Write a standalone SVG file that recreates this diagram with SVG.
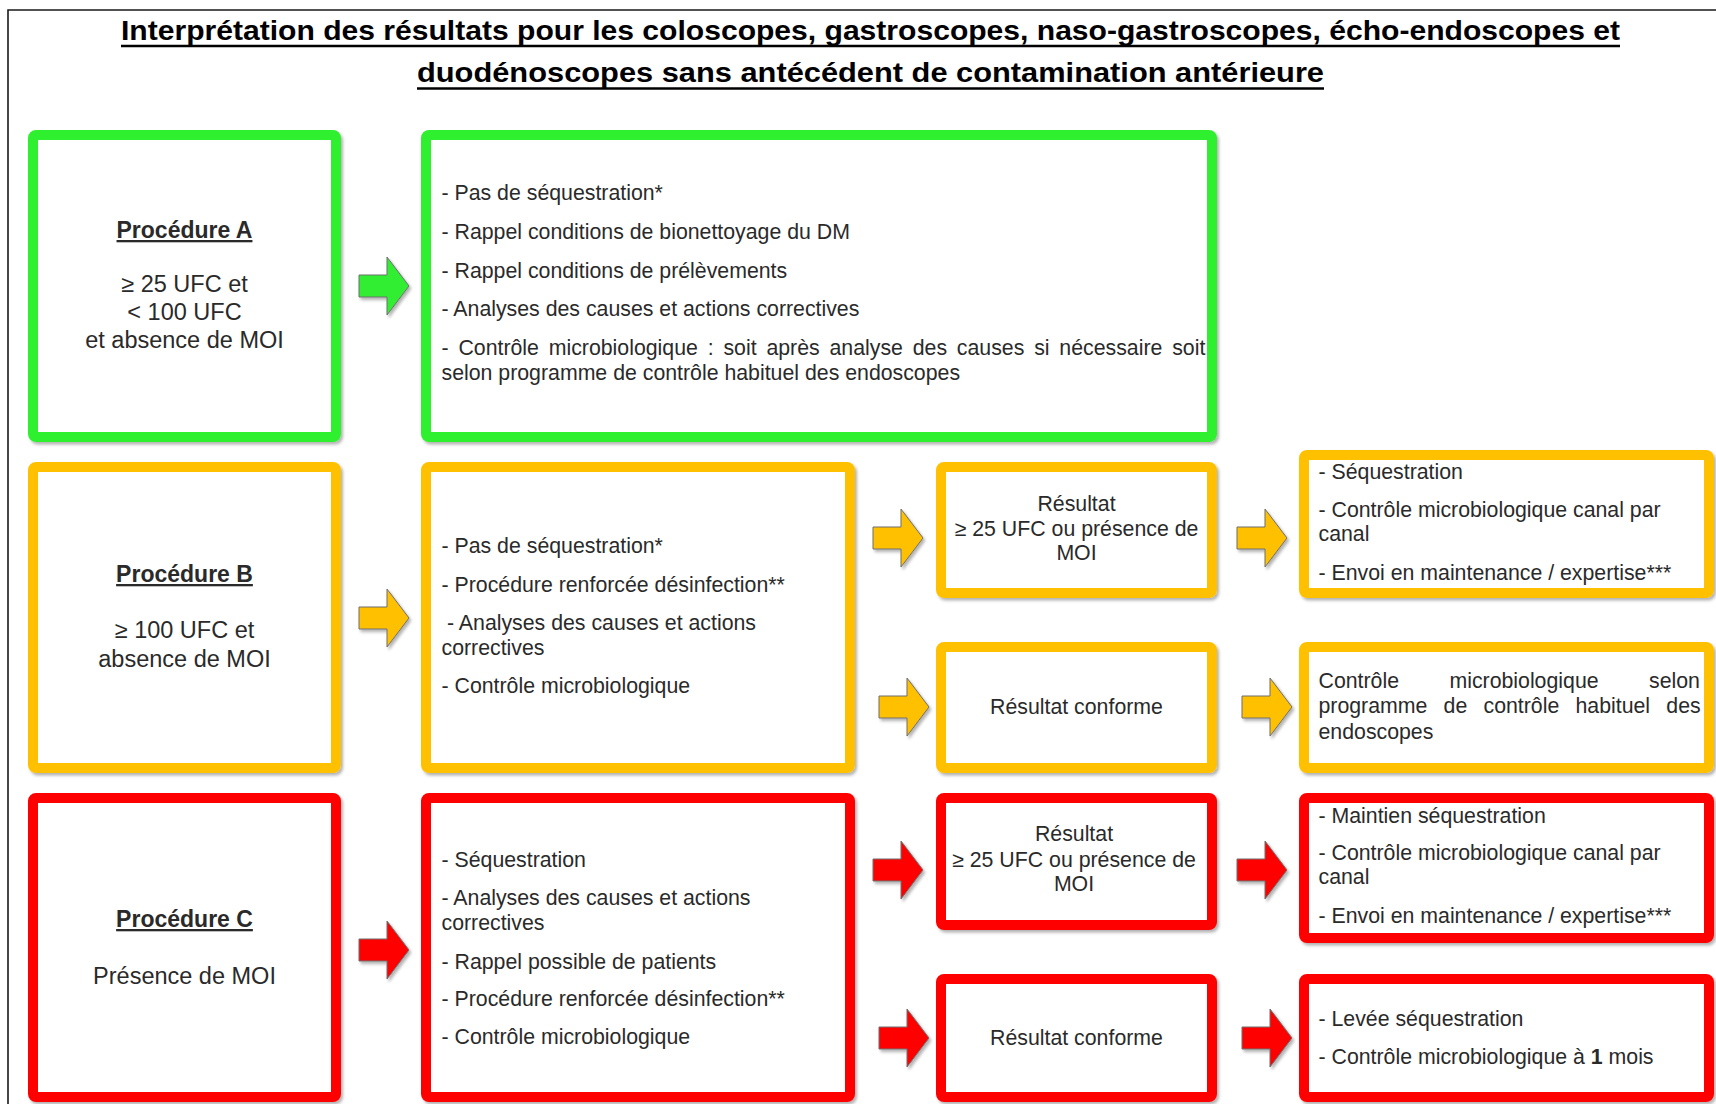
<svg xmlns="http://www.w3.org/2000/svg" xmlns:xlink="http://www.w3.org/1999/xlink" width="1716" height="1104" viewBox="0 0 1716 1104">
<defs>
<filter id="sh" x="-10%" y="-10%" width="120%" height="120%">
<feDropShadow dx="2" dy="2.5" stdDeviation="1.8" flood-color="#000" flood-opacity="0.3"/>
</filter>
<path id="arr" d="M0,-11 H28 V-29 L50,0 L28,29 V11 H0 Z"/>
</defs>
<style>
.bx{fill:#fff;stroke-width:10;filter:url(#sh)}
.g{stroke:#2EF02E}
.o{stroke:#FFC000}
.r{stroke:#FF0000}
.ag{fill:#33EE33}
.ao{fill:#FFC000}
.ar{fill:#FF0000}
.a{stroke:#6f6f6f;stroke-width:1;filter:url(#sh)}
text{font-family:"Liberation Sans",Arial,sans-serif;fill:#2a2a2a}
.t{font-size:21.3px}
.c{font-size:21.3px;text-anchor:middle}
.h{font-size:23px;font-weight:bold;text-anchor:middle;text-decoration:underline}
.p{font-size:23.5px;text-anchor:middle}
.ti{font-size:28px;font-weight:bold;fill:#000}
.ul{stroke:#000;stroke-width:2.5}
</style>
<rect width="1716" height="1104" fill="#fff"/>
<path d="M8,1104 V10 H1716" fill="none" stroke="#1a1a1a" stroke-width="1.6"/>
<g id="title">
<text class="ti" x="121" y="40" textLength="1499" lengthAdjust="spacingAndGlyphs">Interprétation des résultats pour les coloscopes, gastroscopes, naso-gastroscopes, écho-endoscopes et</text>
<text class="ti" x="417" y="82" textLength="907" lengthAdjust="spacingAndGlyphs">duodénoscopes sans antécédent de contamination antérieure</text>
<line class="ul" x1="121" y1="46" x2="1620" y2="46"/>
<line class="ul" x1="417" y1="88.5" x2="1324" y2="88.5"/>
</g>
<g id="connectors">
<use xlink:href="#arr" class="ag a" x="359" y="286"/>
<use xlink:href="#arr" class="ao a" x="359" y="618"/>
<use xlink:href="#arr" class="ar a" x="359" y="950"/>
<use xlink:href="#arr" class="ao a" x="873" y="538"/>
<use xlink:href="#arr" class="ao a" x="1237" y="538"/>
<use xlink:href="#arr" class="ao a" x="879" y="707"/>
<use xlink:href="#arr" class="ao a" x="1242" y="707"/>
<use xlink:href="#arr" class="ar a" x="873" y="870"/>
<use xlink:href="#arr" class="ar a" x="1237" y="870"/>
<use xlink:href="#arr" class="ar a" x="879" y="1038"/>
<use xlink:href="#arr" class="ar a" x="1242" y="1038"/>
</g>
<g id="procA">
<rect class="bx g" x="33" y="135" width="303" height="302" rx="3"/>
<text class="h" x="184.5" y="238">Procédure A</text>
<text class="p" x="184.5" y="292">≥ 25 UFC et</text>
<text class="p" x="184.5" y="320">&lt; 100 UFC</text>
<text class="p" x="184.5" y="348">et absence de MOI</text>
</g>
<g id="actionsA">
<rect class="bx g" x="426" y="135" width="786" height="302" rx="3"/>
<text class="t" x="441.5" y="200">- Pas de séquestration*</text>
<text class="t" x="441.5" y="239">- Rappel conditions de bionettoyage du DM</text>
<text class="t" x="441.5" y="277.5">- Rappel conditions de prélèvements</text>
<text class="t" x="441.5" y="316">- Analyses des causes et actions correctives</text>
<text class="t" x="441.5" y="354.5" word-spacing="3.9">- Contrôle microbiologique : soit après analyse des causes si nécessaire soit</text>
<text class="t" x="441.5" y="380">selon programme de contrôle habituel des endoscopes</text>
</g>
<g id="procB">
<rect class="bx o" x="33" y="467" width="303" height="301" rx="3"/>
<text class="h" x="184.5" y="582">Procédure B</text>
<text class="p" x="184.5" y="638">≥ 100 UFC et</text>
<text class="p" x="184.5" y="667">absence de MOI</text>
</g>
<g id="actionsB">
<rect class="bx o" x="426" y="467" width="424" height="301" rx="3"/>
<text class="t" x="441.5" y="553">- Pas de séquestration*</text>
<text class="t" x="441.5" y="592">- Procédure renforcée désinfection**</text>
<text class="t" x="447" y="630">- Analyses des causes et actions</text>
<text class="t" x="441.5" y="655">correctives</text>
<text class="t" x="441.5" y="693">- Contrôle microbiologique</text>
</g>
<g id="resB1">
<rect class="bx o" x="941" y="467" width="271" height="126" rx="3"/>
<text class="c" x="1076.5" y="511">Résultat</text>
<text class="c" x="1076.5" y="536">≥ 25 UFC ou présence de</text>
<text class="c" x="1076.5" y="560">MOI</text>
</g>
<g id="suiteB1">
<rect class="bx o" x="1304" y="455" width="405" height="138" rx="3"/>
<text class="t" x="1318.5" y="479">- Séquestration</text>
<text class="t" x="1318.5" y="516.5">- Contrôle microbiologique canal par</text>
<text class="t" x="1318.5" y="540.5">canal</text>
<text class="t" x="1318.5" y="580">- Envoi en maintenance / expertise***</text>
</g>
<g id="resB2">
<rect class="bx o" x="941" y="647" width="271" height="121" rx="3"/>
<text class="c" x="1076.5" y="713.5">Résultat conforme</text>
</g>
<g id="suiteB2">
<rect class="bx o" x="1304" y="647" width="405" height="121" rx="3"/>
<text class="t" x="1318.5" y="688" word-spacing="44.5">Contrôle microbiologique selon</text>
<text class="t" x="1318.5" y="713" word-spacing="10.3">programme de contrôle habituel des</text>
<text class="t" x="1318.5" y="738.5">endoscopes</text>
</g>
<g id="procC">
<rect class="bx r" x="33" y="798" width="303" height="299" rx="3"/>
<text class="h" x="184.5" y="927">Procédure C</text>
<text class="p" x="184.5" y="983.5">Présence de MOI</text>
</g>
<g id="actionsC">
<rect class="bx r" x="426" y="798" width="424" height="299" rx="3"/>
<text class="t" x="441.5" y="867">- Séquestration</text>
<text class="t" x="441.5" y="905">- Analyses des causes et actions</text>
<text class="t" x="441.5" y="930">correctives</text>
<text class="t" x="441.5" y="968.5">- Rappel possible de patients</text>
<text class="t" x="441.5" y="1006">- Procédure renforcée désinfection**</text>
<text class="t" x="441.5" y="1044">- Contrôle microbiologique</text>
</g>
<g id="resC1">
<rect class="bx r" x="941" y="798" width="271" height="127" rx="3"/>
<text class="c" x="1074" y="841">Résultat</text>
<text class="c" x="1074" y="867">≥ 25 UFC ou présence de</text>
<text class="c" x="1074" y="891">MOI</text>
</g>
<g id="suiteC1">
<rect class="bx r" x="1304" y="798" width="405" height="140" rx="3"/>
<text class="t" x="1318.5" y="822.5">- Maintien séquestration</text>
<text class="t" x="1318.5" y="860">- Contrôle microbiologique canal par</text>
<text class="t" x="1318.5" y="884">canal</text>
<text class="t" x="1318.5" y="923">- Envoi en maintenance / expertise***</text>
</g>
<g id="resC2">
<rect class="bx r" x="941" y="979" width="271" height="118" rx="3"/>
<text class="c" x="1076.5" y="1045">Résultat conforme</text>
</g>
<g id="suiteC2">
<rect class="bx r" x="1304" y="979" width="405" height="118" rx="3"/>
<text class="t" x="1318.5" y="1025.5">- Levée séquestration</text>
<text class="t" x="1318.5" y="1063.5">- Contrôle microbiologique à <tspan font-weight="bold">1</tspan> mois</text>
</g>
</svg>
